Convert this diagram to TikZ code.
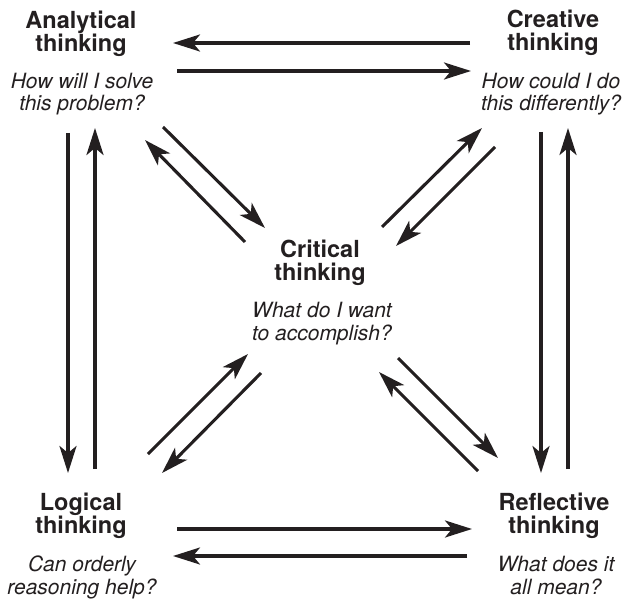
\documentclass[tikz,border=0pt]{standalone}
\usepackage{fontspec}
\setmainfont{TeX Gyre Heros}
\usetikzlibrary{arrows.meta}
\definecolor{ink}{HTML}{231F20}

\begin{document}
\begin{tikzpicture}[x=1pt, y=-1pt,
	arr/.style = {ink, line width=3.1pt, -{Stealth[length=27pt, width=17pt, inset=7pt]}},
	title/.style = {ink, align=center, anchor=base, inner sep=0pt, font=\fontsize{23.5}{23}\selectfont\bfseries},
	quest/.style = {ink, align=center, anchor=base, inner sep=0pt, font=\fontsize{21}{22.5}\selectfont\itshape}]
	\useasboundingbox (0,0) rectangle (628,601);
	% the five kinds of thinking (base = last line)
	\node[title] (ana) at (81,52) {Analytical\\thinking};
	\node[quest] (anaq) at (82,111) {How will I solve\\this problem?};
	\node[title] (cre) at (553,51) {Creative\\thinking};
	\node[quest] (creq) at (551,111) {How could I do\\this differently?};
	\node[title] (cri) at (320,280) {Critical\\thinking};
	\node[quest] (criq) at (322,340) {What do I want\\to accomplish?};
	\node[title] (log) at (81,533) {Logical\\thinking};
	\node[quest] (logq) at (82,594) {Can orderly\\reasoning help?};
	\node[title] (ref) at (554,533) {Reflective\\thinking};
	\node[quest] (refq) at (556,594) {What does it\\all mean?};
	% arrow ends
	\path (470,43) coordinate (ca1) (173,43) coordinate (ca2)
		(177,71) coordinate (ac1) (471,71) coordinate (ac2)
		(177,529) coordinate (lr1) (472,529) coordinate (lr2)
		(467,556) coordinate (rl1) (173,556) coordinate (rl2);
	\path (68,133) coordinate (al1) (68,473) coordinate (al2)
		(95,469) coordinate (la1) (95,128) coordinate (la2)
		(541,132) coordinate (cr1) (541,473) coordinate (cr2)
		(568,469) coordinate (rc1) (568,128) coordinate (rc2);
	\path (163,127) coordinate (ak1) (265,228) coordinate (ak2)
		(245,242) coordinate (ka1) (145,140) coordinate (ka2)
		(382,227) coordinate (kc1) (482,128) coordinate (kc2)
		(495,147) coordinate (ck1) (396,246) coordinate (ck2)
		(148,454) coordinate (lk1) (248,354) coordinate (lk2)
		(261,373) coordinate (kl1) (162,473) coordinate (kl2)
		(398,358) coordinate (kr1) (498,458) coordinate (kr2)
		(478,471) coordinate (rk1) (379,372) coordinate (rk2);
	% horizontal pairs
	\draw[arr] (ca1) -- (ca2);
	\draw[arr] (ac1) -- (ac2);
	\draw[arr] (lr1) -- (lr2);
	\draw[arr] (rl1) -- (rl2);
	% vertical pairs
	\draw[arr] (al1) -- (al2);
	\draw[arr] (la1) -- (la2);
	\draw[arr] (cr1) -- (cr2);
	\draw[arr] (rc1) -- (rc2);
	% to and from the centre
	\draw[arr] (ak1) -- (ak2);
	\draw[arr] (ka1) -- (ka2);
	\draw[arr] (kc1) -- (kc2);
	\draw[arr] (ck1) -- (ck2);
	\draw[arr] (lk1) -- (lk2);
	\draw[arr] (kl1) -- (kl2);
	\draw[arr] (kr1) -- (kr2);
	\draw[arr] (rk1) -- (rk2);
\end{tikzpicture}
\end{document}
